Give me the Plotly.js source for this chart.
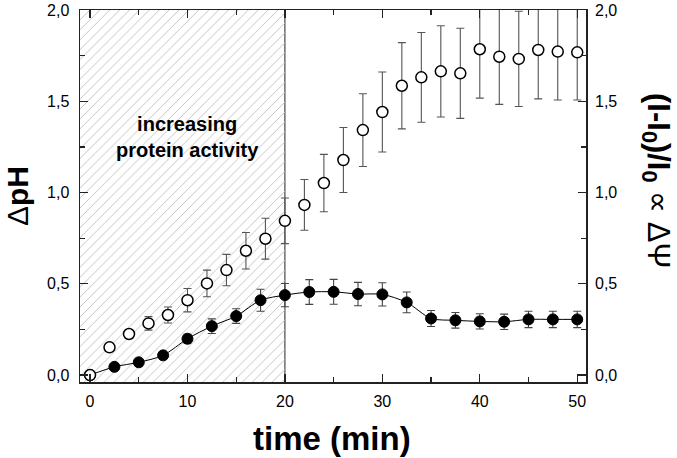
<!DOCTYPE html>
<html>
<head>
<meta charset="utf-8">
<script src="https://cdn.plot.ly/plotly-3.0.1.min.js"></script>
<style>html,body{margin:0;padding:0;background:#fff;}#chart{width:677px;height:458px;}</style>
</head>
<body>
<div id="chart"></div>
<script>
// ---- data ----
const timeFilled = [0, 2.5, 5, 7.5, 10, 12.5, 15, 17.5, 20, 22.5, 25, 27.5, 30, 32.5, 35, 37.5, 40, 42.5, 45, 47.5, 50];
const dpHFilled = [0, 0.045, 0.07, 0.108, 0.199, 0.268, 0.323, 0.41, 0.438, 0.455, 0.456, 0.444, 0.442, 0.398, 0.31, 0.30, 0.294, 0.292, 0.305, 0.305, 0.305];
const dpHFilledErr = [0, 0.015, 0.015, 0.02, 0.025, 0.04, 0.04, 0.06, 0.064, 0.068, 0.068, 0.064, 0.064, 0.057, 0.044, 0.043, 0.042, 0.042, 0.045, 0.045, 0.045];

const timeOpen = [0, 2, 4, 6, 8, 10, 12, 14, 16, 18, 20, 22, 24, 26, 28, 30, 32, 34, 36, 38, 40, 42, 44, 46, 48, 50];
const psiOpen = [0, 0.152, 0.225, 0.283, 0.329, 0.41, 0.502, 0.575, 0.681, 0.747, 0.845, 0.932, 1.052, 1.178, 1.342, 1.441, 1.585, 1.631, 1.664, 1.653, 1.785, 1.744, 1.732, 1.781, 1.772, 1.768];
const psiOpenErr = [0, 0.02, 0.022, 0.037, 0.044, 0.064, 0.073, 0.086, 0.1, 0.112, 0.125, 0.139, 0.157, 0.178, 0.199, 0.219, 0.236, 0.246, 0.25, 0.247, 0.268, 0.261, 0.261, 0.268, 0.265, 0.261];

const activityEnd = [20];          // end of "increasing protein activity" window (min)
const annotationText = ["increasing", "protein activity"];
const xTitle = "time (min)";

// ---- layout helpers ----
const xRange = [-1.03, 50.9];
const yRange = [-0.038, 2.0];
const FONT = "Liberation Sans, Arial, sans-serif";

const hatch = {
  type: "bar",
  x: [(xRange[0] + activityEnd[0]) / 2],
  y: [yRange[1] - yRange[0]],
  base: [yRange[0]],
  width: [activityEnd[0] - xRange[0]],
  marker: {
    color: "rgba(0,0,0,0)",
    line: {width: 0},
    pattern: {shape: "/", fgcolor: "#c4c4c4", bgcolor: "rgba(0,0,0,0)", size: 7, solidity: 0.14}
  },
  hoverinfo: "skip",
  showlegend: false
};

const filled = {
  type: "scatter",
  mode: "lines+markers",
  x: timeFilled,
  y: dpHFilled,
  line: {color: "#000", width: 1, shape: "spline", smoothing: 0.8},
  marker: {symbol: "circle", size: 11, color: "#000", line: {color: "#000", width: 1}},
  error_y: {type: "data", array: dpHFilledErr, visible: true, color: "#444", thickness: 1.1, width: 4},
  showlegend: false
};

const open = {
  type: "scatter",
  mode: "markers",
  x: timeOpen,
  y: psiOpen,
  marker: {symbol: "circle", size: 11, color: "#fff", line: {color: "#000", width: 1.5}},
  error_y: {type: "data", array: psiOpenErr, visible: true, color: "#555", thickness: 1.1, width: 4},
  showlegend: false
};

const rightDummy = {type: "scatter", x: [null], y: [null], yaxis: "y2", showlegend: false, hoverinfo: "skip"};

const tickFont = {family: FONT, size: 16, color: "#000"};

const layout = {
  width: 677, height: 458,
  margin: {l: 80, r: 91, t: 10, b: 76},
  paper_bgcolor: "#fff", plot_bgcolor: "#fff",
  separators: ",.",
  showlegend: false,
  barmode: "overlay",
  xaxis: {
    range: xRange, tickvals: [0, 10, 20, 30, 40, 50], ticks: "inside", ticklen: 8, tickwidth: 1.2, tickcolor: "#222",
    minor: {tickvals: [5, 15, 25, 35, 45], ticks: "inside", ticklen: 5, tickwidth: 1.2, tickcolor: "#222"},
    showline: true, linecolor: "#222", linewidth: 1.5, mirror: "ticks",
    showgrid: false, zeroline: false, tickfont: tickFont, ticklabelstandoff: 4
  },
  yaxis: {
    range: yRange, tickvals: [0, 0.5, 1, 1.5, 2], tickformat: ".1f", ticks: "inside", ticklen: 8, tickwidth: 1.2, tickcolor: "#222",
    minor: {tickvals: [0.25, 0.75, 1.25, 1.75], ticks: "inside", ticklen: 5, tickwidth: 1.2, tickcolor: "#222"},
    showline: true, linecolor: "#222", linewidth: 1.5, mirror: "ticks",
    showgrid: false, zeroline: false, tickfont: tickFont, ticklabelstandoff: 6
  },
  yaxis2: {
    range: yRange, overlaying: "y", side: "right", tickvals: [0, 0.5, 1, 1.5, 2], tickformat: ".1f",
    ticks: "", showline: false, showgrid: false, zeroline: false, tickfont: tickFont, ticklabelstandoff: 8
  },
  shapes: [{
    type: "line", layer: "below", xref: "x", yref: "paper",
    x0: activityEnd[0], x1: activityEnd[0], y0: 0, y1: 1,
    line: {color: "#222", width: 1}
  }],
  annotations: [
    {xref: "x", yref: "y", x: activityEnd[0] / 2, y: 1.305, xanchor: "center", yanchor: "middle", showarrow: false,
     text: "<b>" + annotationText.join("<br>") + "</b>", font: {family: FONT, size: 20, color: "#000"}},
    {xref: "paper", yref: "paper", x: (332 - 80) / 506, y: -(438 - 382) / 372, xanchor: "center", yanchor: "middle", showarrow: false,
     text: "<b>" + xTitle + "</b>", font: {family: FONT, size: 33, color: "#000"}},
    {xref: "paper", yref: "paper", x: (17 - 80) / 506, y: 0.5, xanchor: "center", yanchor: "middle", showarrow: false, textangle: -90,
     text: "Δ<b>pH</b>", font: {family: FONT, size: 30, color: "#000"}},
    {xref: "paper", yref: "paper", x: (656 - 80) / 506, y: (382 - 180) / 372, xanchor: "center", yanchor: "middle", showarrow: false, textangle: 90,
     text: "<b>(I-I<sub>0</sub>)/I<sub>0</sub></b> ∝ ΔΨ", font: {family: FONT, size: 31, color: "#000"}}
  ]
};

Plotly.newPlot("chart", [hatch, filled, open, rightDummy], layout, {staticPlot: true, displayModeBar: false});
</script>
</body>
</html>
